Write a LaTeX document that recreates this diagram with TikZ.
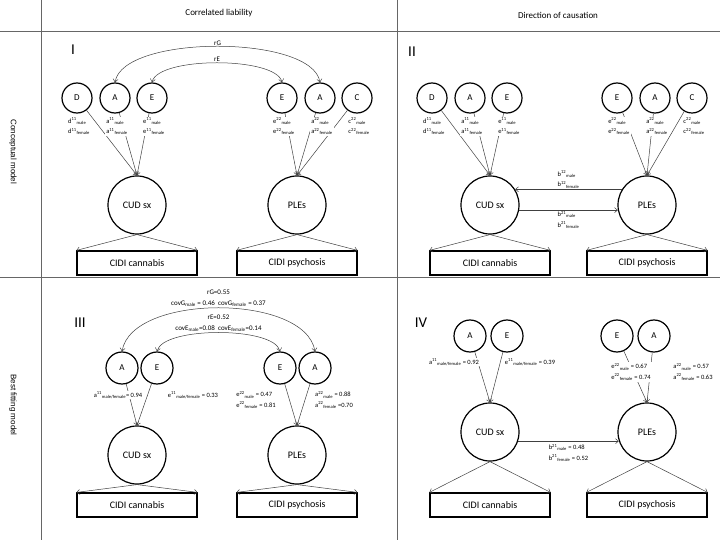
\documentclass[tikz,border=0pt]{standalone}
\usepackage{fontspec}
\setmainfont{Carlito}
\newfontfamily\rowfont{Liberation Sans}
\usepackage{tikz}
\usetikzlibrary{positioning,arrows.meta}

\newcommand{\supsub}[2]{\textsuperscript{#1}\textsubscript{#2}}

\tikzset{
  latent/.style={circle, draw, line width=1.2pt, minimum size=30pt, inner sep=0pt, font=\fontsize{9}{10}\selectfont},
  trait/.style={circle, draw, line width=1.2pt, minimum size=58pt, inner sep=0pt, font=\fontsize{10}{11}\selectfont},
  measure/.style={draw, line width=1.2pt, minimum width=120pt, minimum height=24pt, inner sep=0pt, font=\fontsize{10}{11}\selectfont},
  coef/.style={fill=white, inner sep=1pt, align=left, font=\fontsize{6.5}{10.5}\selectfont},
  arctext/.style={inner sep=1pt, align=center, font=\fontsize{7}{11}\selectfont},
  regline/.style={draw=black!75, line width=0.5pt, -{Straight Barb[length=3pt,width=5pt]}},
  covline/.style={draw=black!75, line width=0.5pt, {Straight Barb[length=3pt,width=5pt]}-{Straight Barb[length=3pt,width=5pt]}},
  panelrule/.style={draw=black!60, line width=0.7pt},
  numeral/.style={font=\fontsize{15}{17}\selectfont},
  heading/.style={font=\fontsize{9}{10}\selectfont},
  rowlabel/.style={font=\rowfont\fontsize{8}{9}\selectfont, rotate=-90}
}

\begin{document}
\begin{tikzpicture}[x=1pt, y=-1pt]
    \useasboundingbox (0,0) rectangle (720,540);

    % Table rules
    \draw[panelrule] (0,31) -- (720,31);
    \draw[panelrule] (0,277) -- (720,277);
    \draw[panelrule] (41,0) -- (41,540);
    \draw[panelrule] (397,0) -- (397,540);

    \node[heading] (head-cl) at (219,13) {Correlated liability};
    \node[heading] (head-dc) at (558,15) {Direction of causation};
    \node[rowlabel] (row-cm) at (13,152) {Conceptual model};
    \node[rowlabel] (row-bf) at (13,405) {Best fitting model};

    % ---------- I ----------
    \node[numeral] (num-I) at (73,50) {I};
    \foreach \n/\x/\t in {D11/77/D, A11/115/A, E11/152/E, E22/282/E, A22/320/A, C22/357/C}
        \node[latent] (\n-I) at (\x,98) {\t};
    \node[trait] (cud-I) at (137,205) {CUD sx};
    \node[trait] (ples-I) at (297,205) {PLEs};
    \node[measure] (can-I) at (137,263) {CIDI cannabis};
    \node[measure] (psy-I) at (297,263) {CIDI psychosis};

    \draw[covline] (A11-I.north) .. controls +(8,-48) and +(-8,-48) .. (A22-I.north)
        node[midway, above, arctext] (rG-I) {rG};
    \draw[covline] (E11-I.north) .. controls +(6,-26) and +(-6,-26) .. (E22-I.north)
        node[midway, above, arctext] (rE-I) {rE};

    \foreach \n in {D11,A11,E11}
        \draw[regline] (\n-I) -- (cud-I.north);
    \foreach \n in {E22,A22,C22}
        \draw[regline] (\n-I) -- (ples-I.north);
    \foreach \m in {north west, north east} {
        \draw[regline] (cud-I.south) -- (can-I.\m);
        \draw[regline] (ples-I.south) -- (psy-I.\m);
    }

    \foreach \n/\v/\s in {D11/d/11, A11/a/11, E11/e/11, E22/e/22, A22/a/22, C22/c/22}
        \node[coef, below=3pt of \n-I, xshift=2pt] (lab\n-I) {\v\supsub{\s}{male}\\\v\supsub{\s}{female}};

    % ---------- II ----------
    \node[numeral] (num-II) at (412,52) {II};
    \foreach \n/\x/\t in {D11/432/D, A11/470/A, E11/507/E, E22/617/E, A22/655/A, C22/692/C}
        \node[latent] (\n-II) at (\x,98) {\t};
    \node[trait] (cud-II) at (490,205) {CUD sx};
    \node[trait] (ples-II) at (647,205) {PLEs};
    \node[measure] (can-II) at (490,263) {CIDI cannabis};
    \node[measure] (psy-II) at (647,263) {CIDI psychosis};

    \foreach \n in {D11,A11,E11}
        \draw[regline] (\n-II) -- (cud-II.north);
    \foreach \n in {E22,A22,C22}
        \draw[regline] (\n-II) -- (ples-II.north);
    \foreach \m in {north west, north east} {
        \draw[regline] (cud-II.south) -- (can-II.\m);
        \draw[regline] (ples-II.south) -- (psy-II.\m);
    }
    \draw[regline] (ples-II.148) -- (cud-II.32)
        node[midway, above, coef, fill=none] (b12-II) {b\supsub{12}{male}\\b\supsub{12}{female}};
    \draw[regline] (cud-II.-10) -- (ples-II.190)
        node[midway, below, coef, fill=none] (b21-II) {b\supsub{21}{male}\\b\supsub{21}{female}};

    \foreach \n/\v/\s in {D11/d/11, A11/a/11, E11/e/11, E22/e/22, A22/a/22, C22/c/22}
        \node[coef, below=3pt of \n-II, xshift=2pt] (lab\n-II) {\v\supsub{\s}{male}\\\v\supsub{\s}{female}};

    % ---------- III ----------
    \node[numeral] (num-III) at (80,323) {III};
    \foreach \n/\x/\t in {A11/122/A, E11/157/E, E22/280/E, A22/315/A}
        \node[latent, minimum size=32pt] (\n-III) at (\x,368) {\t};
    \node[trait] (cud-III) at (137,455) {CUD sx};
    \node[trait] (ples-III) at (297,455) {PLEs};
    \node[measure] (can-III) at (137,505) {CIDI cannabis};
    \node[measure] (psy-III) at (297,505) {CIDI psychosis};

    \draw[covline] (A11-III.north) .. controls +(10,-58) and +(-10,-58) .. (A22-III.north)
        node[midway, above, arctext] (rG-III) {rG=0.55\\covG\textsubscript{male} = 0.46~~covG\textsubscript{female} = 0.37};
    \draw[covline] (E11-III.north) .. controls +(6,-25) and +(-6,-25) .. (E22-III.north)
        node[midway, above, arctext] (rE-III) {rE=0.52\\covE\textsubscript{male}=0.08~~covE\textsubscript{female}=0.14};

    \foreach \n in {A11,E11}
        \draw[regline] (\n-III) -- (cud-III.north);
    \foreach \n in {E22,A22}
        \draw[regline] (\n-III) -- (ples-III.north);
    \foreach \m in {north west, north east} {
        \draw[regline] (cud-III.south) -- (can-III.\m);
        \draw[regline] (ples-III.south) -- (psy-III.\m);
    }

    \node[coef] (labA11-III) at (118,395) {a\supsub{11}{male/female}= 0.94};
    \node[coef] (labE11-III) at (193,395) {e\supsub{11}{male/female} = 0.33};
    \node[coef] (labE22-III) at (256,400) {e\supsub{22}{male} = 0.47\\e\supsub{22}{female} = 0.81};
    \node[coef] (labA22-III) at (334,400) {a\supsub{22}{male} = 0.88\\a\supsub{22}{female} =0.70};

    % ---------- IV ----------
    \node[numeral] (num-IV) at (421,323) {IV};
    \foreach \n/\x/\t in {A11/470/A, E11/507/E, E22/617/E, A22/654/A}
        \node[latent, minimum size=32pt] (\n-IV) at (\x,336) {\t};
    \node[trait] (cud-IV) at (490,432) {CUD sx};
    \node[trait] (ples-IV) at (647,432) {PLEs};
    \node[measure] (can-IV) at (490,505) {CIDI cannabis};
    \node[measure] (psy-IV) at (647,505) {CIDI psychosis};

    \foreach \n in {A11,E11}
        \draw[regline] (\n-IV) -- (cud-IV.north);
    \foreach \n in {E22,A22}
        \draw[regline] (\n-IV) -- (ples-IV.north);
    \foreach \m in {north west, north east} {
        \draw[regline] (cud-IV.south) -- (can-IV.\m);
        \draw[regline] (ples-IV.south) -- (psy-IV.\m);
    }
    \draw[regline] (cud-IV.-18) -- (ples-IV.198)
        node[midway, below=2pt, coef, fill=none] (b21-IV) {b\supsub{21}{male} = 0.48\\b\supsub{21}{female} = 0.52};

    \node[coef] (labA11-IV) at (454,362) {a\supsub{11}{male/female} = 0.92};
    \node[coef] (labE11-IV) at (530,362) {e\supsub{11}{male/female} = 0.39};
    \node[coef] (labE22-IV) at (631,372) {e\supsub{22}{male} = 0.67\\e\supsub{22}{female} = 0.74};
    \node[coef] (labA22-IV) at (693,372) {a\supsub{22}{male} = 0.57\\a\supsub{22}{female} = 0.63};
\end{tikzpicture}
\end{document}
